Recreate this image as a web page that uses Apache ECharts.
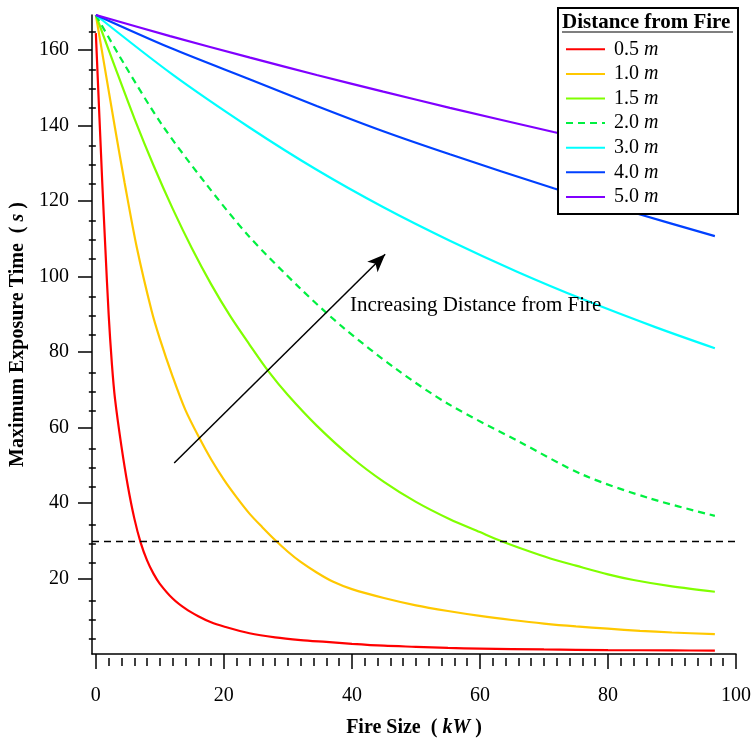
<!DOCTYPE html>
<html>
<head>
<meta charset="utf-8">
<script src="https://cdn.jsdelivr.net/npm/echarts@6/dist/echarts.min.js"></script>
<style>
  html, body { margin: 0; padding: 0; background: #fff; }
  #chart { width: 754px; height: 743px; }
</style>
</head>
<body>
<div id="chart"></div>
<script>
  // series names and colours
  const names = ['0.5 m', '1.0 m', '1.5 m', '2.0 m', '3.0 m', '4.0 m', '5.0 m']
  const colors = ['#ff0000', '#ffc800', '#80ff00', '#00f040', '#00ffff', '#0040ff', '#8000ff']

  // values (fire size kW -> max exposure time s)
  const xRed = [0, 1, 1.5, 2, 2.5, 3, 4, 5, 6, 7, 8, 9, 10, 12, 14, 16, 18, 20, 24, 28, 32, 36, 40, 45, 50, 55, 60, 70, 80, 90, 96.7]
  const yRed = [164.5, 125, 107, 90, 77, 67.5, 55, 44.5, 36, 29.5, 24.8, 21.3, 18.6, 14.7, 12.0, 10.0, 8.4, 7.3, 5.5, 4.4, 3.7, 3.2, 2.7, 2.2, 1.9, 1.6, 1.45, 1.2, 1.05, 0.95, 0.9]

  const xYellow = [0, 1.5, 3, 4.5, 6.4, 8.7, 10, 12, 14, 16.3, 18, 20, 22, 24, 26, 28, 30, 32, 34.5, 37, 40, 45, 50, 55, 60, 65, 70, 75, 80, 85, 90, 96.7]
  const yYellow = [169.3, 154.3, 139.3, 124.8, 107.7, 91, 83.5, 73.5, 64.6, 56.8, 51.6, 46.2, 41.5, 37.2, 33.6, 30.2, 27.1, 24.4, 21.6, 19.2, 17.2, 14.85, 12.9, 11.4, 10.1, 9.0, 8.05, 7.3, 6.7, 6.15, 5.7, 5.26]

  const xGreen = [0, 3, 6, 9, 12, 15, 18, 21, 24, 27, 30, 34.5, 40, 45, 50, 55.3, 60, 63.2, 67, 71, 75, 80, 84, 90, 96.7]
  const yGreen = [169.3, 155.5, 142, 129.5, 118, 107.5, 98, 89.5, 82, 74.8, 68.6, 60.5, 52.0, 45.6, 40.3, 35.7, 32.3, 30.0, 27.6, 25.3, 23.4, 21.1, 19.6, 17.9, 16.5]

  const xDash = [0, 4.5, 10.3, 17, 23.8, 31.9, 38.7, 47, 55, 66.3, 76.2, 86.6, 96.7]
  const yDash = [169.3, 156.1, 140.3, 125, 110.9, 96.9, 86.4, 75.4, 66.3, 56.1, 47.4, 41.2, 36.6]

  const xCyan = [0, 12, 24, 34.5, 45, 55.3, 65.8, 76.2, 87.4, 96.7]
  const yCyan = [169.3, 153.5, 139.5, 128.3, 118.3, 109.5, 101.3, 93.9, 86.6, 81]

  const xBlue = [0, 11.6, 24.1, 34.5, 44.9, 55.3, 71.5, 84.5, 96.7]
  const yBlue = [169.3, 160.6, 152.2, 145.2, 138.5, 132.4, 123.4, 116.7, 110.7]

  const xPurple = [0, 11.6, 24.1, 34.5, 44.9, 55.3, 71.5, 84, 96.7]
  const yPurple = [169.3, 163.7, 158, 153.4, 149, 144.7, 138.3, 133.5, 128.8]

  // axis ticks and labels
  const xMajor = [0, 20, 40, 60, 80, 100]
  const xMinor = []
  for (let v = 2; v < 100; v += 2) if (v % 20 !== 0) xMinor.push(v)
  const yMajor = [20, 40, 60, 80, 100, 120, 140, 160]
  const yMinor = []
  for (let v = 5; v <= 165; v += 5) if (v % 20 !== 0) yMinor.push(v)

  const threshold = 30
  const arrowFrom = [12.24, 50.6]
  const arrowTo = [45.2, 105.9]

  const font = '"Liberation Serif", "Times New Roman", serif'
  const xs = [xRed, xYellow, xGreen, xDash, xCyan, xBlue, xPurple]
  const ys = [yRed, yYellow, yGreen, yDash, yCyan, yBlue, yPurple]

  const chart = echarts.init(document.getElementById('chart'))

  const series = names.map((n, i) => ({
    name: n,
    type: 'line',
    z: 2,
    xAxisIndex: 0,
    yAxisIndex: 0,
    data: xs[i].map((x, j) => [x, ys[i][j]]),
    symbol: 'none',
    smooth: 0.3,
    color: colors[i],
    lineStyle: { color: colors[i], width: 2.2, type: i === 3 ? [7, 5] : 'solid' },
    emphasis: { disabled: true },
  }))

  series[0].markLine = {
    silent: true,
    symbol: ['none', 'none'],
    label: { show: false },
    lineStyle: { color: '#000' },
    data: [
      { yAxis: threshold, lineStyle: { color: '#000', width: 1.3, type: [7, 5] } },
      [
        { coord: arrowFrom, symbol: 'none', lineStyle: { color: '#000', width: 1.5, type: 'solid' } },
        { coord: arrowTo, symbol: 'arrow', symbolSize: [11, 18], lineStyle: { color: '#000', width: 1.5, type: 'solid' } },
      ],
    ],
  }

  const nameRich = {
    b: { fontFamily: font, fontSize: 20, fontWeight: 'bold', color: '#000' },
    bi: { fontFamily: font, fontSize: 20, fontWeight: 'bold', fontStyle: 'italic', color: '#000' },
  }

  chart.setOption({
    animation: false,
    grid: [
      { left: 92, right: 18, top: 15, bottom: 85 },
      { left: 92, right: 18, top: 15, bottom: 85 },
    ],
    xAxis: [
      {
        type: 'value', gridIndex: 0, min: -0.6, max: 100,
        axisLine: { onZero: false, lineStyle: { color: '#000', width: 1.5 } },
        axisTick: { customValues: xMajor, length: 15, lineStyle: { color: '#000', width: 1.5 } },
        axisLabel: { customValues: xMajor, margin: 32, fontFamily: font, fontSize: 20, color: '#000' },
        splitLine: { show: false },
        name: '{b|Fire Size  ( }{bi|kW}{b| )}',
        nameLocation: 'middle',
        nameGap: 64,
        nameTextStyle: { rich: nameRich },
      },
      {
        type: 'value', gridIndex: 1, min: -0.6, max: 100,
        axisLine: { show: false },
        axisTick: { customValues: xMinor, length: 8, lineStyle: { color: '#000', width: 1.5 } },
        axisLabel: { show: false },
        splitLine: { show: false },
      },
    ],
    yAxis: [
      {
        type: 'value', gridIndex: 0, min: 0, max: 169.3,
        axisLine: { show: true, onZero: false, lineStyle: { color: '#000', width: 1.5 } },
        axisTick: { customValues: yMajor, length: 14, lineStyle: { color: '#000', width: 1.5 } },
        axisLabel: { customValues: yMajor, margin: 23, fontFamily: font, fontSize: 20, color: '#000' },
        splitLine: { show: false },
        name: '{b|Maximum Exposure Time  ( }{bi|s}{b| )}',
        nameLocation: 'middle',
        nameGap: 63,
        nameTextStyle: { rich: nameRich },
      },
      {
        type: 'value', gridIndex: 1, min: 0, max: 169.3,
        axisLine: { show: false },
        axisTick: { customValues: yMinor, length: 7, lineStyle: { color: '#000', width: 1.5 } },
        axisLabel: { show: false },
        splitLine: { show: false },
      },
    ],
    legend: {
      data: names,
      orient: 'vertical',
      left: 560,
      top: 34.3,
      itemWidth: 39,
      itemHeight: 14,
      itemGap: 4.6,
      selectedMode: false,
      z: 4,
      itemStyle: { opacity: 0 },
      formatter: (n) => '{v|' + n.split(' ')[0] + ' }{i|m}',
      textStyle: {
        padding: [0, 0, 0, 4],
        rich: {
          v: { fontFamily: font, fontSize: 20, lineHeight: 20, color: '#000' },
          i: { fontFamily: font, fontSize: 20, lineHeight: 20, fontStyle: 'italic', color: '#000' },
        },
      },
    },
    graphic: [
      { type: 'rect', left: 557, top: 7, z: 3, shape: { width: 180, height: 206 }, style: { fill: '#fff', stroke: '#000', lineWidth: 2 } },
      { type: 'text', x: 562, y: 23, z: 6, style: { text: 'Distance from Fire', font: 'bold 21px ' + font, fill: '#000', verticalAlign: 'middle' } },
      { type: 'line', z: 6, shape: { x1: 562, y1: 32, x2: 733, y2: 32 }, style: { stroke: '#000', lineWidth: 1.2 } },
      { type: 'text', x: 350, y: 305, z: 6, style: { text: 'Increasing Distance from Fire', font: '21px ' + font, fill: '#000', verticalAlign: 'middle' } },
    ],
    series: series,
  })
</script>
</body>
</html>
